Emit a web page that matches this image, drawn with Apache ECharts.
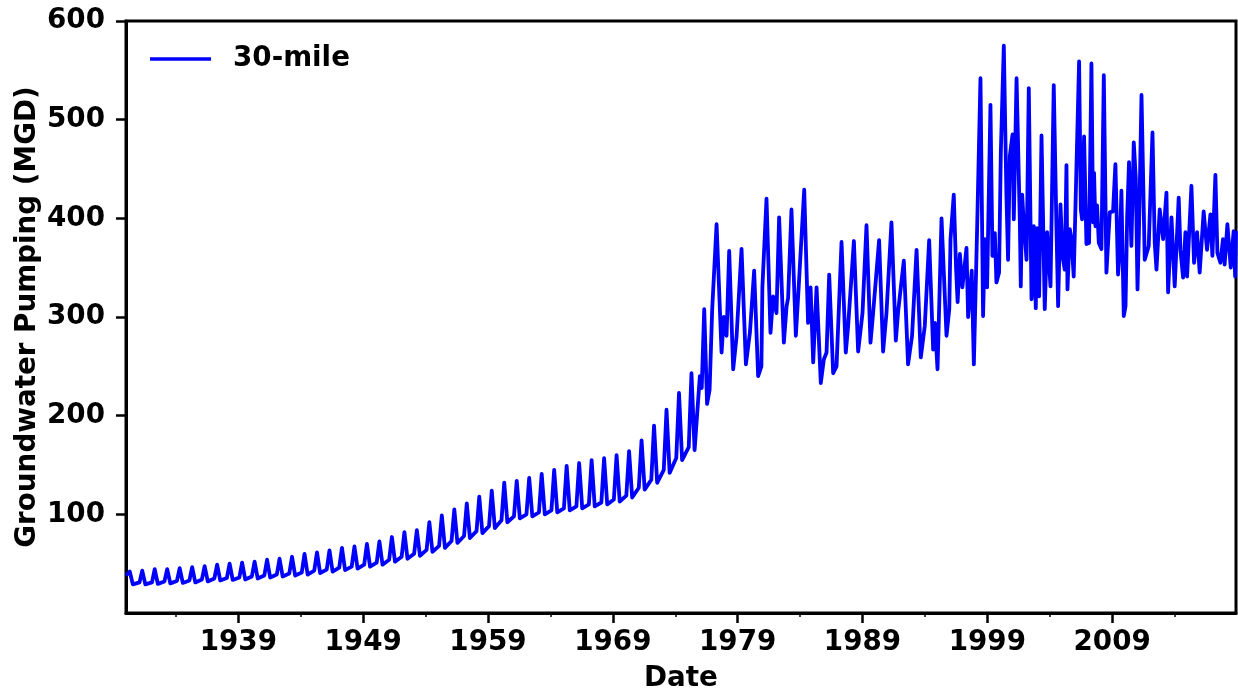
<!DOCTYPE html>
<html>
<head>
<meta charset="utf-8">
<script src="https://cdn.jsdelivr.net/npm/echarts@6/dist/echarts.min.js"></script>
<style>
  html, body { margin: 0; padding: 0; background: #fff; }
  #chart { width: 1238px; height: 690px; }
</style>
</head>
<body>
<div id="chart"></div>
<script>
// ---------------- DATA ----------------
const seriesName = '30-mile';
const xTickYears = [1939, 1949, 1959, 1969, 1979, 1989, 1999, 2009];
const xMinorYears = [1934, 1944, 1954, 1964, 1974, 1984, 1994, 2004, 2014];
const yTickValues = [100, 200, 300, 400, 500, 600];

// Regular seasonal period 1930-1975: per-year start level, summer peak, autumn low (MGD)
const seasonYears = [1930,1931,1932,1933,1934,1935,1936,1937,1938,1939,
                     1940,1941,1942,1943,1944,1945,1946,1947,1948,1949,
                     1950,1951,1952,1953,1954,1955,1956,1957,1958,1959,
                     1960,1961,1962,1963,1964,1965,1966,1967,1968,1969,
                     1970,1971,1972,1973,1974,1975];
const seasonStart = [38,31,31,32,32.5,33,34,35,35.5,36,
                     37,38,39,40,41,43,44,46,47,49,
                     51,54,57,60,64,68,73,78,83,88,
                     94,98,100,102,104,106,108,110,112,115,
                     119,127,135,145,157,168];
const seasonPeak  = [42,43,44.5,44.5,45.5,46.5,47.5,49,50,51,
                     52,54,55,57,60,61.5,63.5,66,67.5,70,
                     72.5,77,82,84,92,99,105,111,118,124,
                     132,134,137,141,145,149,152,155,157,160,
                     164,175,190,206,223,243];
const seasonLow   = [29,29,29.5,30,30.5,31,32,33,33.5,34,
                     35,36,37,38,39,40.5,42,43.5,45,47,
                     49,52,55,58,62,66,71,76,81,86,
                     92,96,98,100,102,104,106,108,110,113,
                     117,125,132,142,155,165];
// month fraction of the year at which start / peak / low occur
const seasonTiming = [0.08, 0.3, 0.55];

// Irregular period 1976-2018 (decimal year, MGD)
const lateDates = [1975.97,1976.12,1976.32,1976.55,1976.75,1976.96,1977.31,1977.71,1977.89,1978.11,
  1978.32,1978.64,1978.91,1979.31,1979.66,1979.98,1980.32,1980.64,1980.9,1980.98,
  1981.31,1981.63,1981.84,1982.11,1982.32,1982.7,1982.92,1983.04,1983.31,1983.66,
  1983.9,1984.33,1984.64,1984.84,1985.05,1985.32,1985.66,1985.9,1986.12,1986.33,
  1986.65,1986.92,1987.32,1987.66,1987.85,1988.31,1988.65,1989.0,1989.32,1989.64,
  1989.85,1990.33,1990.65,1990.92,1991.32,1991.67,1991.85,1992.31,1992.65,1992.97,
  1993.33,1993.67,1993.99,1994.34,1994.66,1994.8,1995.01,1995.33,1995.73,1995.95,
  1996.05,1996.31,1996.5,1996.62,1996.8,1997.0,1997.33,1997.46,1997.75,1997.92,
  1998.18,1998.45,1998.66,1998.8,1998.98,1999.25,1999.41,1999.6,1999.73,1999.94,
  2000.08,2000.32,2000.53,2000.66,2000.8,2001.02,2001.12,2001.34,2001.6,2001.68,
  2001.79,2001.92,2002.14,2002.32,2002.54,2002.72,2002.88,2002.99,2003.15,2003.34,
  2003.6,2003.79,2004.06,2004.32,2004.54,2004.67,2004.86,2005.02,2005.2,2005.34,
  2005.42,2005.61,2005.74,2005.92,2006.35,2006.49,2006.59,2006.75,2006.94,2007.15,
  2007.34,2007.47,2007.55,2007.66,2007.79,2007.93,2008.14,2008.33,2008.54,2008.81,
  2009.07,2009.26,2009.47,2009.61,2009.74,2009.93,2010.07,2010.2,2010.35,2010.54,
  2010.73,2010.89,2011.03,2011.16,2011.35,2011.61,2011.93,2012.23,2012.41,2012.55,
  2012.81,2013.08,2013.35,2013.48,2013.75,2014.01,2014.33,2014.47,2014.68,2014.87,
  2015.0,2015.35,2015.56,2015.8,2016.01,2016.33,2016.6,2016.87,2017.03,2017.27,
  2017.43,2017.67,2017.88,2018.01,2018.23,2018.5,2018.73,2018.85,2018.92];
const lateMGD = [240,228,308,212,226,308,394,264,300,281,
  367,247,280,369,252,284,347,240,250,330,
  420,284,321,304,401,274,311,319,409,281,
  333,429,294,330,254,330,233,257,264,343,
  243,250,376,264,291,377,265,304,393,274,
  304,378,265,304,396,276,305,357,252,281,
  368,259,291,378,267,294,247,400,281,308,
  379,424,348,315,364,330,370,300,347,252,
  389,542,301,379,330,515,362,385,335,345,
  467,575,423,358,463,485,399,542,399,331,
  424,395,358,532,318,392,309,390,321,484,
  308,386,331,535,389,311,414,362,348,454,
  328,389,379,341,559,409,399,483,374,375,
  557,396,446,392,413,375,369,545,345,406,
  407,455,343,368,428,301,311,401,457,372,
  477,441,328,395,525,358,372,487,375,348,
  409,379,426,325,401,331,421,368,340,386,
  341,433,355,386,345,407,368,404,362,444,
  365,355,379,353,394,350,387,341,387];

// ---------------- BUILD SERIES ----------------
const seriesData = [];
seasonYears.forEach((yr, i) => {
  seriesData.push([yr + seasonTiming[0], seasonStart[i]]);
  seriesData.push([yr + seasonTiming[1], seasonPeak[i]]);
  seriesData.push([yr + seasonTiming[2], seasonLow[i]]);
});
lateDates.forEach((d, i) => seriesData.push([d, lateMGD[i]]));
seriesData[0][0] = 1930.0; // series starts at the left edge

const FONT = 'DejaVu Sans';
const FS = 27.78;

const chart = echarts.init(document.getElementById('chart'), null, { renderer: 'canvas' });
chart.setOption({
  animation: false,
  backgroundColor: '#ffffff',
  grid: {
    left: 126, right: 2, top: 21, bottom: 77,
    containLabel: false,
    outerBoundsMode: 'none',
    show: true, borderColor: '#000', borderWidth: 3, backgroundColor: 'transparent'
  },
  legend: {
    show: true,
    left: 145, top: 40,
    icon: 'rect',
    itemWidth: 61, itemHeight: 3.5,
    data: [seriesName],
    textStyle: { fontFamily: FONT, fontWeight: 'bold', fontSize: FS, color: '#000', padding: [0, 0, 0, 17] }
  },
  xAxis: [{
    type: 'value', position: 'bottom',
    min: 1930, max: 2018.92,
    name: 'Date', nameLocation: 'middle', nameGap: 52, nameMoveOverlap: false,
    nameTextStyle: { fontFamily: FONT, fontWeight: 'bold', fontSize: FS, color: '#000' },
    axisLine: { show: true, lineStyle: { color: '#000', width: 3 } },
    axisTick: { show: true, customValues: xTickYears, length: 10, lineStyle: { color: '#000', width: 2.5 } },
    axisLabel: { show: true, customValues: xTickYears, margin: 16, formatter: v => String(Math.round(v)),
      fontFamily: FONT, fontWeight: 'bold', fontSize: FS, color: '#000' },
    splitLine: { show: false }
  }, {
    type: 'value', position: 'bottom', offset: 0,
    min: 1930, max: 2018.92,
    axisLine: { show: false },
    axisTick: { show: true, customValues: xMinorYears, length: 4, lineStyle: { color: '#000', width: 1.5 } },
    axisLabel: { show: false },
    splitLine: { show: false }
  }],
  yAxis: {
    type: 'value', min: 0, max: 600,
    name: 'Groundwater Pumping (MGD)', nameLocation: 'middle', nameGap: 84, nameMoveOverlap: false,
    nameTextStyle: { fontFamily: FONT, fontWeight: 'bold', fontSize: FS, color: '#000' },
    axisLine: { show: true, lineStyle: { color: '#000', width: 3 } },
    axisTick: { show: true, customValues: yTickValues, length: 10, lineStyle: { color: '#000', width: 2.5 } },
    axisLabel: { show: true, customValues: yTickValues, margin: 21,
      fontFamily: FONT, fontWeight: 'bold', fontSize: FS, color: '#000' },
    splitLine: { show: false }
  },
  series: [{
    name: seriesName,
    type: 'line',
    xAxisIndex: 0,
    data: seriesData,
    showSymbol: false,
    symbol: 'none',
    lineStyle: { color: '#0000ff', width: 3.8, join: 'round' },
    itemStyle: { color: '#0000ff' }
  }]
});
</script>
</body>
</html>
